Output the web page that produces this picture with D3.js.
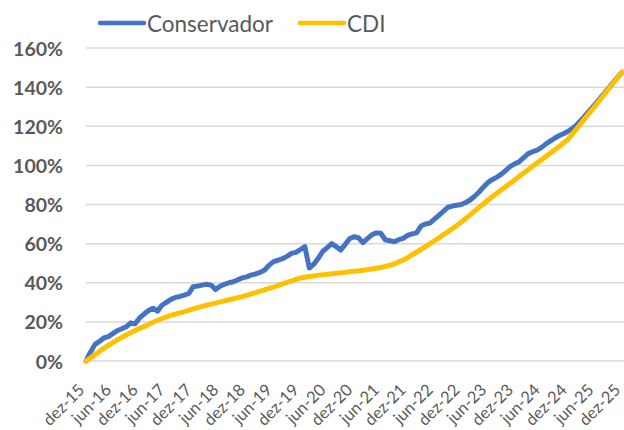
<!DOCTYPE html>
<html>
<head>
<meta charset="utf-8">
<script src="https://cdn.jsdelivr.net/npm/d3@7"></script>
<style>
  body { margin: 0; background: #fff; }
  svg { display: block; font-family: Lato, "Open Sans", sans-serif; }
</style>
</head>
<body>
<div id="chart"></div>
<script>
// tick labels, one every 6 months (dez-15 .. dez-25)
const tickLabels = ["dez-15", "jun-16", "dez-16", "jun-17", "dez-17", "jun-18", "dez-18",
    "jun-19", "dez-19", "jun-20", "dez-20", "jun-21", "dez-21", "jun-22", "dez-22",
    "jun-23", "dez-23", "jun-24", "dez-24", "jun-25", "dez-25"];

const yTicks = [0, 20, 40, 60, 80, 100, 120, 140, 160];

// monthly accumulated return (%)
const conservador = [
    0, 4.5, 8.5, 10, 11.8, 12.5, 14, 15.5, 16.5, 17.5,
    19.5, 19, 22, 24, 25.8, 27, 25.5, 28.5, 30, 31.5,
    32.5, 33, 33.7, 34.5, 38, 38.3, 38.8, 39.2, 38.8, 36.5,
    38.2, 39.2, 40, 40.5, 41.5, 42.5, 43, 44, 44.5, 45.3,
    46.5, 49, 50.8, 51.5, 52.3, 53.5, 55, 55.5, 57, 58.5,
    47.5, 49.5, 52.5, 56, 58, 60, 58.5, 56.7, 59.5, 62.5,
    63.5, 63, 60.5, 62.5, 64.5, 65.5, 65.3, 62, 61.5, 61,
    62, 62.7, 64.2, 65, 65.5, 69, 70, 70.5, 72.5, 74.5,
    76.5, 78.5, 79.2, 79.6, 80, 81, 82.3, 84.2, 86.4, 89,
    91.3, 92.8, 94, 95.5, 97.5, 99.5, 100.8, 101.9, 104, 106,
    107, 107.8, 109.2, 111, 112.5, 114, 115.3, 116.3, 117.5, 119,
    121, 123.5, 126, 128.6, 131.3, 134, 136.7, 139.5, 142.3, 145,
    147.6
];

const cdi = [
    0, 1.6, 3.2, 4.9, 6.5, 8, 9.4, 10.8, 12, 13.3,
    14.5, 15.6, 16.7, 17.6, 18.7, 19.8, 20.7, 21.7, 22.6, 23.3,
    24, 24.6, 25.2, 25.9, 26.6, 27.3, 27.9, 28.5, 29.1, 29.6,
    30.2, 30.7, 31.3, 31.8, 32.4, 32.9, 33.6, 34.3, 35, 35.7,
    36.4, 37.1, 37.8, 38.6, 39.4, 40.2, 40.9, 41.7, 42.4, 42.8,
    43.2, 43.5, 43.9, 44.1, 44.4, 44.6, 44.8, 45.1, 45.3, 45.6,
    45.9, 46.1, 46.4, 46.7, 47, 47.4, 47.8, 48.4, 49, 49.6,
    50.6, 51.6, 52.8, 54.2, 55.6, 57.1, 58.5, 60, 61.4, 62.9,
    64.5, 66.1, 67.6, 69.2, 71, 72.8, 74.7, 76.6, 78.5, 80.4,
    82.3, 84.1, 85.8, 87.5, 89.2, 90.9, 92.6, 94.4, 96.1, 97.8,
    99.5, 101.2, 102.9, 104.6, 106.3, 108, 109.8, 111.6, 113.6, 116.3,
    119.1, 122, 124.9, 127.6, 130.4, 133.3, 136.2, 139.1, 142, 144.8,
    147.5
];

const seriesNames = ["Conservador", "CDI"];
const seriesColors = ["#4472C4", "#FFC000"];

const width = 624, height = 430;
const margin = { left: 86, right: 622, top: 48, bottom: 361 };
const textColor = "#595959";

const svg = d3.select("#chart").append("svg")
    .attr("width", width)
    .attr("height", height);

const x = d3.scaleLinear()
    .domain([0, conservador.length - 1])
    .range([margin.left, margin.right]);

const y = d3.scaleLinear()
    .domain([0, 160])
    .range([margin.bottom, margin.top]);

// gridlines
svg.append("g")
    .selectAll("line")
    .data(yTicks)
    .join("line")
    .attr("x1", margin.left)
    .attr("x2", width)
    .attr("y1", d => y(d))
    .attr("y2", d => y(d))
    .attr("stroke", "#D9D9D9")
    .attr("stroke-width", 1.5);

// y axis labels
const yAxis = svg.append("g")
    .attr("transform", `translate(${margin.left},0)`)
    .call(d3.axisLeft(y).tickValues(yTicks).tickSize(0).tickPadding(23)
        .tickFormat(d => d + "%"));
yAxis.select(".domain").remove();
yAxis.selectAll("text")
    .attr("dy", "0.36em")
    .style("font-family", "Lato, sans-serif")
    .style("font-size", "19.5px")
    .style("font-weight", "bold")
    .attr("fill", textColor);

// x axis labels, rotated
const xAxis = svg.append("g")
    .attr("transform", `translate(0,${margin.bottom})`)
    .call(d3.axisBottom(x).tickValues(tickLabels.map((_, i) => i * 6)).tickSize(0)
        .tickFormat(d => tickLabels[d / 6]));
xAxis.select(".domain").remove();
xAxis.selectAll("text")
    .attr("x", 0)
    .attr("y", 0)
    .attr("dy", null)
    .attr("transform", "translate(-1,30) rotate(-45)")
    .style("text-anchor", "end")
    .style("font-family", "Lato, sans-serif")
    .style("font-size", "16.5px")
    .attr("fill", textColor);

// lines
const line = d3.line()
    .x((d, i) => x(i))
    .y(d => y(d));

[conservador, cdi].forEach((values, k) => {
    svg.append("path")
        .datum(values)
        .attr("d", line)
        .attr("fill", "none")
        .attr("stroke", seriesColors[k])
        .attr("stroke-width", 5)
        .attr("stroke-linejoin", "round")
        .attr("stroke-linecap", "round");
});

// legend
const legendX = [100, 300];
const legend = svg.append("g");
seriesNames.forEach((name, k) => {
    legend.append("line")
        .attr("x1", legendX[k])
        .attr("x2", legendX[k] + 44)
        .attr("y1", 23)
        .attr("y2", 23)
        .attr("stroke", seriesColors[k])
        .attr("stroke-width", 4.5)
        .attr("stroke-linecap", "round");
    legend.append("text")
        .attr("x", legendX[k] + 47)
        .attr("y", 32)
        .attr("fill", textColor)
        .style("font-family", "Lato, sans-serif")
        .style("font-size", "22.5px")
        .text(name);
});
</script>
</body>
</html>
